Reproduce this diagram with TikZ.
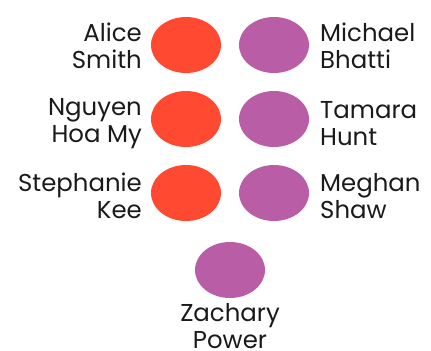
\documentclass[tikz,border=0pt]{standalone}
\usepackage{fontspec}
\setmainfont{Poppins}
\usetikzlibrary{shapes.geometric}
\definecolor{redc}{HTML}{FF4A31}
\definecolor{purc}{HTML}{B95DA6}
\definecolor{txt}{HTML}{1A1A1A}
\begin{document}
\begin{tikzpicture}[x=1bp,y=-1bp,
  dot/.style={ellipse,minimum width=70bp,minimum height=56bp,inner sep=0pt},
  reddot/.style={dot,fill=redc},
  purdot/.style={dot,fill=purc},
  lab/.style={text=txt,inner sep=0pt,font=\fontsize{24.5}{27}\selectfont},
  llab/.style={lab,anchor=base east,align=right},
  rlab/.style={lab,anchor=base west,align=left}]
\useasboundingbox (0,0) rectangle (431,351);
\node[reddot] (a) at (186,45) {};
\node[reddot] (n) at (186,119) {};
\node[reddot] (s) at (186,193) {};
\node[purdot] (m) at (274,45) {};
\node[purdot] (t) at (274,119) {};
\node[purdot] (g) at (274,193) {};
\node[purdot] (z) at (230,270) {};
\node[llab] (la) at (142,68) {Alice\\Smith};
\node[llab] (ln) at (142,142) {Nguyen\\Hoa My};
\node[llab] (ls) at (142,218) {Stephanie\\Kee};
\node[rlab] (lm) at (320,68) {Michael\\Bhatti};
\node[rlab] (lt) at (320,145) {Tamara\\Hunt};
\node[rlab] (lg) at (320,218) {Meghan\\Shaw};
\node[lab,anchor=base,align=center] (lz) at (230,348) {Zachary\\Power};
\end{tikzpicture}
\end{document}
